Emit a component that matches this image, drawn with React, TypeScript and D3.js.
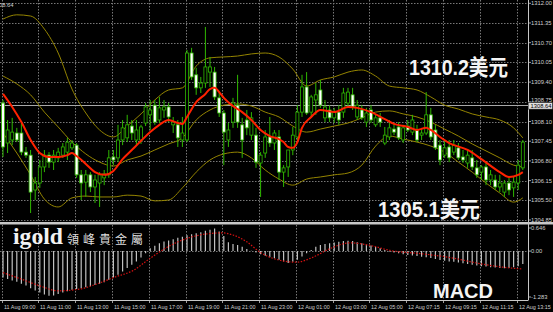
import React from "react";
import * as d3 from "d3";

const W = 553;
const H = 312;

const timeLabels = [
  "11 Aug 09:00", "11 Aug 11:00", "11 Aug 13:00", "11 Aug 15:00", "11 Aug 17:00",
  "11 Aug 19:00", "11 Aug 21:00", "11 Aug 23:00", "12 Aug 01:00", "12 Aug 03:00",
  "12 Aug 05:00", "12 Aug 07:15", "12 Aug 09:15", "12 Aug 11:15", "12 Aug 13:15",
];
const timeLabelBars = [0, 8, 16, 24, 32, 40, 48, 56, 64, 72, 80, 88, 96, 104, 112];

const priceTicks = [1312.0, 1311.35, 1310.7, 1310.05, 1309.4, 1308.75, 1308.1, 1307.45, 1306.8, 1306.15, 1305.5, 1304.85];
const macdTicks = [0.646, 0.0, -1.283];
const bidPrice = 1308.64;

const opens = [
  1308.71, 1307.39, 1307.49, 1307.72, 1307.72, 1307.09, 1306.99, 1305.84, 1306.07, 1306.6,
  1306.99, 1306.76, 1306.9, 1306.99, 1307.09, 1307.23, 1307.32, 1306.34, 1306.1, 1306.34,
  1305.94, 1306.07, 1306.24, 1306.34, 1306.93, 1306.9, 1307.49, 1307.56, 1307.95, 1307.49,
  1307.49, 1308.05, 1308.32, 1308.64, 1308.15, 1308.48, 1308.58, 1307.99, 1307.99, 1307.49,
  1307.49, 1310.36, 1309.64, 1309.21, 1309.37, 1309.73, 1309.73, 1308.88, 1308.38, 1307.49,
  1308.08, 1308.64, 1307.99, 1308.15, 1307.65, 1307.65, 1306.73, 1307.06, 1307.59, 1307.39,
  1307.59, 1306.43, 1306.6, 1307.16, 1307.59, 1308.41, 1309.24, 1308.41, 1308.81, 1309.14,
  1308.22, 1308.48, 1308.22, 1308.41, 1308.41, 1308.71, 1308.98, 1308.25, 1308.48, 1308.08,
  1308.48, 1307.99, 1308.22, 1307.39, 1307.59, 1307.85, 1307.92, 1307.49, 1307.95, 1307.75,
  1307.82, 1307.65, 1307.72, 1308.32, 1307.82, 1307.32, 1306.99, 1307.26, 1307.09, 1307.23,
  1306.93, 1306.73, 1306.9, 1306.57, 1306.43, 1306.6, 1306.17, 1306.17, 1305.94, 1305.77,
  1306.07, 1305.91, 1306.07, 1306.57,
];
const highs = [
  1308.81, 1308.15, 1308.22, 1307.89, 1308.05, 1307.26, 1307.16, 1306.27, 1306.83, 1307.16,
  1307.09, 1307.16, 1307.23, 1307.39, 1307.56, 1307.49, 1307.39, 1306.5, 1306.5, 1306.43,
  1306.34, 1306.43, 1306.5, 1307.16, 1307.16, 1307.99, 1308.15, 1308.32, 1308.15, 1308.15,
  1307.99, 1308.71, 1308.81, 1308.81, 1308.91, 1308.81, 1308.71, 1308.25, 1308.15, 1308.25,
  1310.46, 1310.53, 1309.87, 1309.57, 1311.22, 1310.23, 1309.9, 1309.04, 1308.48, 1308.05,
  1308.88, 1309.64, 1308.22, 1308.48, 1308.41, 1307.89, 1307.09, 1307.82, 1308.25, 1307.82,
  1307.82, 1306.66, 1306.99, 1307.92, 1308.64, 1309.64, 1309.73, 1308.98, 1309.37, 1309.47,
  1308.81, 1308.64, 1308.55, 1308.64, 1309.21, 1309.21, 1309.21, 1308.81, 1308.64, 1308.55,
  1308.64, 1308.32, 1308.38, 1307.92, 1308.15, 1308.02, 1308.08, 1307.99, 1308.15, 1308.32,
  1307.99, 1307.89, 1309.07, 1308.55, 1307.99, 1307.49, 1307.49, 1307.49, 1307.49, 1307.39,
  1307.16, 1307.16, 1307.16, 1306.83, 1306.66, 1306.76, 1306.5, 1306.34, 1306.34, 1306.17,
  1306.24, 1306.27, 1306.83, 1307.49,
];
const lows = [
  1306.93, 1307.06, 1307.32, 1307.42, 1306.99, 1306.9, 1305.08, 1305.51, 1305.91, 1306.43,
  1306.57, 1306.5, 1306.76, 1306.9, 1306.83, 1307.16, 1306.24, 1305.51, 1305.61, 1305.77,
  1305.41, 1305.28, 1306.0, 1306.24, 1306.66, 1306.76, 1307.32, 1307.42, 1307.49, 1307.32,
  1307.36, 1307.95, 1307.82, 1307.99, 1308.05, 1308.22, 1308.08, 1307.72, 1307.26, 1307.26,
  1307.42, 1309.47, 1308.98, 1309.04, 1309.21, 1309.24, 1308.81, 1308.25, 1306.66, 1307.26,
  1307.89, 1307.89, 1306.9, 1307.65, 1307.49, 1306.57, 1305.61, 1306.9, 1307.26, 1307.16,
  1306.17, 1305.94, 1306.27, 1306.99, 1307.49, 1308.25, 1308.32, 1308.22, 1308.32, 1308.55,
  1308.08, 1308.08, 1308.05, 1307.99, 1308.22, 1308.58, 1308.48, 1308.15, 1308.15, 1307.92,
  1308.05, 1307.92, 1307.92, 1307.32, 1307.49, 1307.65, 1307.49, 1307.39, 1307.75, 1307.65,
  1307.42, 1307.49, 1307.65, 1307.49, 1307.16, 1306.66, 1306.9, 1306.76, 1306.99, 1306.83,
  1306.73, 1306.57, 1306.5, 1306.24, 1306.17, 1306.0, 1306.0, 1305.84, 1305.77, 1305.61,
  1305.67, 1305.61, 1305.84, 1306.5,
];
const closes = [
  1307.26, 1307.82, 1307.75, 1307.49, 1307.09, 1306.99, 1305.77, 1306.07, 1306.6, 1306.99,
  1306.76, 1306.99, 1307.09, 1307.26, 1307.42, 1307.39, 1306.34, 1306.07, 1306.34, 1305.94,
  1306.17, 1306.34, 1306.37, 1306.9, 1306.83, 1307.49, 1307.89, 1307.99, 1307.72, 1307.82,
  1307.92, 1308.58, 1308.48, 1308.08, 1308.55, 1308.58, 1308.25, 1308.08, 1307.56, 1307.72,
  1310.36, 1309.57, 1309.21, 1309.37, 1309.9, 1309.9, 1308.91, 1308.38, 1307.75, 1307.82,
  1308.71, 1308.08, 1307.49, 1307.89, 1308.22, 1306.76, 1306.99, 1307.59, 1307.39, 1307.72,
  1306.43, 1306.57, 1307.16, 1307.65, 1308.41, 1309.24, 1308.38, 1308.91, 1308.98, 1308.64,
  1308.58, 1308.22, 1308.41, 1308.15, 1309.04, 1309.07, 1308.58, 1308.64, 1308.22, 1308.38,
  1308.15, 1308.22, 1308.08, 1307.65, 1307.89, 1307.75, 1307.56, 1307.89, 1307.82, 1308.15,
  1307.49, 1307.72, 1308.32, 1307.59, 1307.23, 1306.83, 1307.23, 1306.9, 1307.32, 1306.9,
  1306.83, 1306.99, 1306.6, 1306.34, 1306.6, 1306.17, 1306.34, 1305.94, 1306.07, 1306.07,
  1305.84, 1306.1, 1306.66, 1307.42,
];

// Bollinger band readings at sampled bar positions
const bandIdx = [0, 3, 6, 9, 12, 15, 18, 21, 24, 27, 30, 33, 36, 39, 42, 45, 48, 51, 54, 57, 60, 63, 66, 69, 72, 75, 78, 81, 84, 87, 90, 93, 96, 99, 102, 105, 108, 111, 113];
const upperBand = [
  1311.48, 1311.62, 1311.58, 1311.15, 1310.36, 1309.17, 1308.38, 1307.82, 1307.59, 1307.95,
  1308.35, 1308.81, 1309.14, 1309.21, 1309.93, 1310.2, 1310.23, 1310.26, 1310.33, 1310.36,
  1310.23, 1309.83, 1309.27, 1309.47, 1309.57, 1309.73, 1309.8, 1309.6, 1309.27, 1309.21,
  1309.14, 1308.91, 1308.64, 1308.51, 1308.35, 1308.25, 1308.15, 1307.89, 1307.56,
];
const middleBand = [
  1309.6, 1309.34, 1308.98, 1308.41, 1307.92, 1307.42, 1307.03, 1306.76, 1306.63, 1306.83,
  1306.96, 1307.16, 1307.36, 1307.56, 1308.15, 1308.48, 1308.64, 1308.68, 1308.61, 1308.41,
  1308.25, 1307.95, 1307.75, 1307.85, 1307.95, 1308.05, 1308.22, 1308.41, 1308.45, 1308.35,
  1308.25, 1308.08, 1307.85, 1307.62, 1307.36, 1307.13, 1306.9, 1306.66, 1306.6,
];
const lowerBand = [
  1307.72, 1307.06, 1306.34, 1305.54, 1305.28, 1305.58, 1305.64, 1305.61, 1305.61, 1305.67,
  1305.64, 1305.48, 1305.51, 1305.91, 1306.43, 1306.83, 1307.03, 1307.09, 1306.9, 1306.5,
  1306.2, 1306.0, 1306.2, 1306.27, 1306.34, 1306.4, 1306.66, 1307.29, 1307.62, 1307.52,
  1307.42, 1307.29, 1307.09, 1306.76, 1306.43, 1306.07, 1305.74, 1305.44, 1305.58,
];

// Red moving average readings
const maIdx = [0, 2, 4, 6, 8, 10, 12, 14, 15, 16, 18, 20, 22, 24, 26, 28, 30, 32, 34, 36, 38, 39, 40, 42, 44, 45, 46, 47, 48, 50, 52, 54, 56, 58, 60, 61, 62, 63, 64, 65, 67, 69, 72, 75, 77, 80, 83, 85, 88, 90, 92, 93, 95, 97, 101, 104, 108, 110, 112, 113];
const maVals = [
  1309.01, 1308.58, 1308.08, 1307.49, 1307.06, 1306.93, 1306.93, 1306.99, 1307.06, 1306.96,
  1306.7, 1306.43, 1306.34, 1306.47, 1306.86, 1307.16, 1307.46, 1307.75, 1307.99, 1308.15,
  1308.05, 1308.02, 1308.25, 1308.74, 1309.01, 1309.17, 1309.21, 1309.07, 1308.88, 1308.61,
  1308.41, 1308.15, 1307.82, 1307.62, 1307.52, 1307.42, 1307.26, 1307.23, 1307.42, 1307.89,
  1308.25, 1308.48, 1308.41, 1308.58, 1308.55, 1308.41, 1308.18, 1308.02, 1307.92, 1307.82,
  1307.89, 1307.82, 1307.59, 1307.39, 1307.16, 1306.86, 1306.43, 1306.27, 1306.34, 1306.43,
];

// MACD histogram, one per bar
const macdHist = [
  -0.74, -0.78, -0.82, -0.86, -0.91, -0.96, -1.04, -1.1, -1.16, -1.21,
  -1.25, -1.24, -1.2, -1.16, -1.12, -1.08, -1.06, -1.04, -1.01, -0.98,
  -0.95, -0.91, -0.87, -0.8, -0.74, -0.66, -0.57, -0.47, -0.38, -0.29,
  -0.18, -0.06, 0.08, 0.15, 0.22, 0.27, 0.3, 0.33, 0.37, 0.4,
  0.44, 0.47, 0.5, 0.53, 0.57, 0.6, 0.63, 0.55, 0.42, 0.25,
  0.2, 0.17, 0.12, 0.06, 0.01, -0.04, -0.09, -0.13, -0.17, -0.2,
  -0.24, -0.29, -0.33, -0.3, -0.24, -0.15, -0.06, 0.03, 0.12, 0.17,
  0.2, 0.22, 0.24, 0.26, 0.28, 0.29, 0.28, 0.25, 0.22, 0.19,
  0.16, 0.12, 0.08, 0.03, -0.01, -0.04, -0.06, -0.09, -0.11, -0.12,
  -0.14, -0.16, -0.17, -0.19, -0.22, -0.25, -0.27, -0.29, -0.3, -0.32,
  -0.34, -0.36, -0.38, -0.4, -0.42, -0.43, -0.45, -0.46, -0.47, -0.48,
  -0.47, -0.45, -0.42, -0.36,
];

// MACD signal line readings
const signalIdx = [0, 3.7, 8, 12, 16.7, 21, 24, 28.3, 32, 35.7, 39, 42.8, 47.6, 50, 53, 55.9, 58, 63.8, 67.4, 71.1, 75.4, 79.8, 84.1, 90.7, 97.2, 103.7, 108.7, 113];
const signalVals = [
  -0.6, -0.77, -0.97, -1.11, -1.06, -0.89, -0.74, -0.54, -0.2, 0.11,
  0.31, 0.45, 0.51, 0.45, 0.26, -0.03, -0.17, -0.31, -0.17, 0.07,
  0.23, 0.16, 0.02, -0.07, -0.18, -0.35, -0.45, -0.5,
];

const AXIS_FONT = "'Liberation Sans', Arial, sans-serif";
const GRID = "#787878";
const GREEN = "#2fb800";
const OLIVE = "#948400";

export default function App() {
  const x = d3.scaleLinear().domain([0, 113]).range([3, 522.8]);
  const y = d3.scaleLinear().domain([1304.85, 1312.0]).range([220, 3.3]);
  const ym = d3.scaleLinear().domain([-1.283, 0.646]).range([297, 228]);

  const axisX = 528.5;
  const mainBottom = 222;
  const macdTop = 225;
  const macdBottom = 300;

  const sampleLine = (idx: number[], vals: number[], ys: d3.ScaleLinear<number, number>) =>
    d3
      .line<number>()
      .x((_, i) => x(idx[i]))
      .y((v) => ys(v))
      .curve(d3.curveMonotoneX)(vals) || "";

  const gridXs = timeLabelBars.map((b) => x(b) - 1.5);
  const bidY = y(bidPrice);

  return (
    <svg
      width={W}
      height={H}
      viewBox={`0 0 ${W} ${H}`}
      style={{ position: "fixed", left: 0, top: 0, display: "block", background: "#000" }}
    >
      <defs>
        <clipPath id="mainClip">
          <rect x={0} y={0} width={axisX} height={mainBottom} />
        </clipPath>
        <clipPath id="macdClip">
          <rect x={0} y={macdTop} width={axisX} height={macdBottom - macdTop} />
        </clipPath>
      </defs>
      <rect x={0} y={0} width={W} height={H} fill="#000" />

      {/* grid main */}
      <g stroke={GRID} strokeWidth={1} strokeDasharray="1.5 1.5" fill="none">
        {priceTicks.map((p) => (
          <line key={"hg" + p} x1={0} x2={axisX} y1={Math.round(y(p)) + 0.5} y2={Math.round(y(p)) + 0.5} />
        ))}
        {gridXs.map((gx, i) => (
          <line key={"vg" + i} x1={Math.round(gx) + 0.5} x2={Math.round(gx) + 0.5} y1={0} y2={mainBottom} />
        ))}
        {gridXs.map((gx, i) => (
          <line key={"vgm" + i} x1={Math.round(gx) + 0.5} x2={Math.round(gx) + 0.5} y1={macdTop} y2={macdBottom} />
        ))}
        <line x1={0} x2={axisX} y1={Math.round(ym(0)) + 0.5} y2={Math.round(ym(0)) + 0.5} />
      </g>

      {/* bid line */}
      <line x1={0} x2={axisX} y1={Math.round(bidY) + 0.5} y2={Math.round(bidY) + 0.5} stroke="#a8a8a8" strokeWidth={1} />

      {/* main panel series */}
      <g clipPath="url(#mainClip)">
        <path d={sampleLine(bandIdx, upperBand, y)} fill="none" stroke={OLIVE} strokeWidth={1} />
        <path d={sampleLine(bandIdx, middleBand, y)} fill="none" stroke={OLIVE} strokeWidth={1} />
        <path d={sampleLine(bandIdx, lowerBand, y)} fill="none" stroke={OLIVE} strokeWidth={1} />

        {opens.map((o, i) => {
          const c = closes[i];
          const cx = x(i);
          const top = y(Math.max(o, c));
          const bot = y(Math.min(o, c));
          const bull = c >= o;
          return (
            <g key={"c" + i}>
              <line x1={cx} x2={cx} y1={y(highs[i])} y2={y(lows[i])} stroke={GREEN} strokeWidth={1} />
              <rect
                x={cx - 1.5}
                y={top}
                width={3}
                height={Math.max(bot - top, 1)}
                fill={bull ? "#000" : "#fff"}
                stroke={GREEN}
                strokeWidth={0.8}
              />
            </g>
          );
        })}

        <path d={sampleLine(maIdx, maVals, y)} fill="none" stroke="#ff2200" strokeWidth={2} />
      </g>

      {/* MACD */}
      <g clipPath="url(#macdClip)">
        {macdHist.map((v, i) => (
          <line key={"h" + i} x1={x(i)} x2={x(i)} y1={ym(0)} y2={ym(v)} stroke="#c0c0c0" strokeWidth={1.2} />
        ))}
        <path d={sampleLine(signalIdx, signalVals, ym)} fill="none" stroke="#d41010" strokeWidth={1.2} strokeDasharray="1.5 1.5" />
      </g>

      {/* separators and axes */}
      <rect x={0} y={222} width={W} height={2.5} fill="#c8c8c8" />
      <line x1={axisX} x2={axisX} y1={0} y2={macdBottom} stroke="#c8c8c8" strokeWidth={1} />
      <line x1={0} x2={axisX} y1={macdBottom + 0.5} y2={macdBottom + 0.5} stroke="#c8c8c8" strokeWidth={1} />

      {/* price axis labels */}
      <g fontFamily={AXIS_FONT} fontSize={5.8} fill="#d0d0d0">
        {priceTicks.map((p) => (
          <g key={"pl" + p}>
            <line x1={axisX} x2={axisX + 2.5} y1={y(p)} y2={y(p)} stroke="#c8c8c8" strokeWidth={0.8} />
            <text x={531} y={Math.abs(p - 1308.75) < 0.001 ? y(p) + 0.5 : y(p) + 2}>{p.toFixed(2)}</text>
          </g>
        ))}
        <rect x={axisX} y={bidY - 2.6} width={24} height={6.6} fill="#e0e0e0" stroke="#222" strokeWidth={0.5} />
        <text x={530.5} y={bidY + 2.6} fill="#000">{bidPrice.toFixed(2)}</text>
        {macdTicks.map((m) => (
          <g key={"ml" + m}>
            <line x1={axisX} x2={axisX + 2.5} y1={ym(m)} y2={ym(m)} stroke="#c8c8c8" strokeWidth={0.8} />
            <text x={531} y={ym(m) + 2}>{m === 0 ? "0.00" : m.toFixed(3)}</text>
          </g>
        ))}
        <text x={13.5} y={6.5} textAnchor="end">{bidPrice.toFixed(2)}</text>
      </g>

      {/* time axis */}
      <g fontFamily={AXIS_FONT} fontSize={5.4} fill="#d0d0d0">
        {timeLabels.map((t, i) => {
          const gx = Math.round(gridXs[i]) + 0.5;
          return (
            <g key={"t" + i}>
              <line x1={gx} x2={gx} y1={macdBottom} y2={macdBottom + 3} stroke="#c8c8c8" strokeWidth={0.8} />
              <text x={gx + 1.5} y={309}>{t}</text>
            </g>
          );
        })}
      </g>

      {/* annotations */}
      <g fontFamily="'Liberation Sans', Arial, 'Noto Sans CJK SC', sans-serif" fontWeight="bold" fill="#f4f4f4">
        <text x={409} y={74.5} fontSize={22} textLength={99} lengthAdjust="spacingAndGlyphs">1310.2美元</text>
        <text x={378} y={216.5} fontSize={22} textLength={102} lengthAdjust="spacingAndGlyphs">1305.1美元</text>
        <text x={433} y={297.8} fontSize={20.5} textLength={60} lengthAdjust="spacingAndGlyphs">MACD</text>
      </g>

      {/* logo */}
      <text x={13} y={244} fontFamily="'Liberation Serif', 'DejaVu Serif', serif" fontWeight="bold" fontSize={23} fill="#f2f2f2" textLength={50} lengthAdjust="spacingAndGlyphs">igold</text>
      <text x={67} y={244} fontFamily="'Noto Sans CJK TC', 'Noto Sans CJK SC', sans-serif" fontSize={12} fill="#dedede" letterSpacing={4}>領峰貴金屬</text>
    </svg>
  );
}
